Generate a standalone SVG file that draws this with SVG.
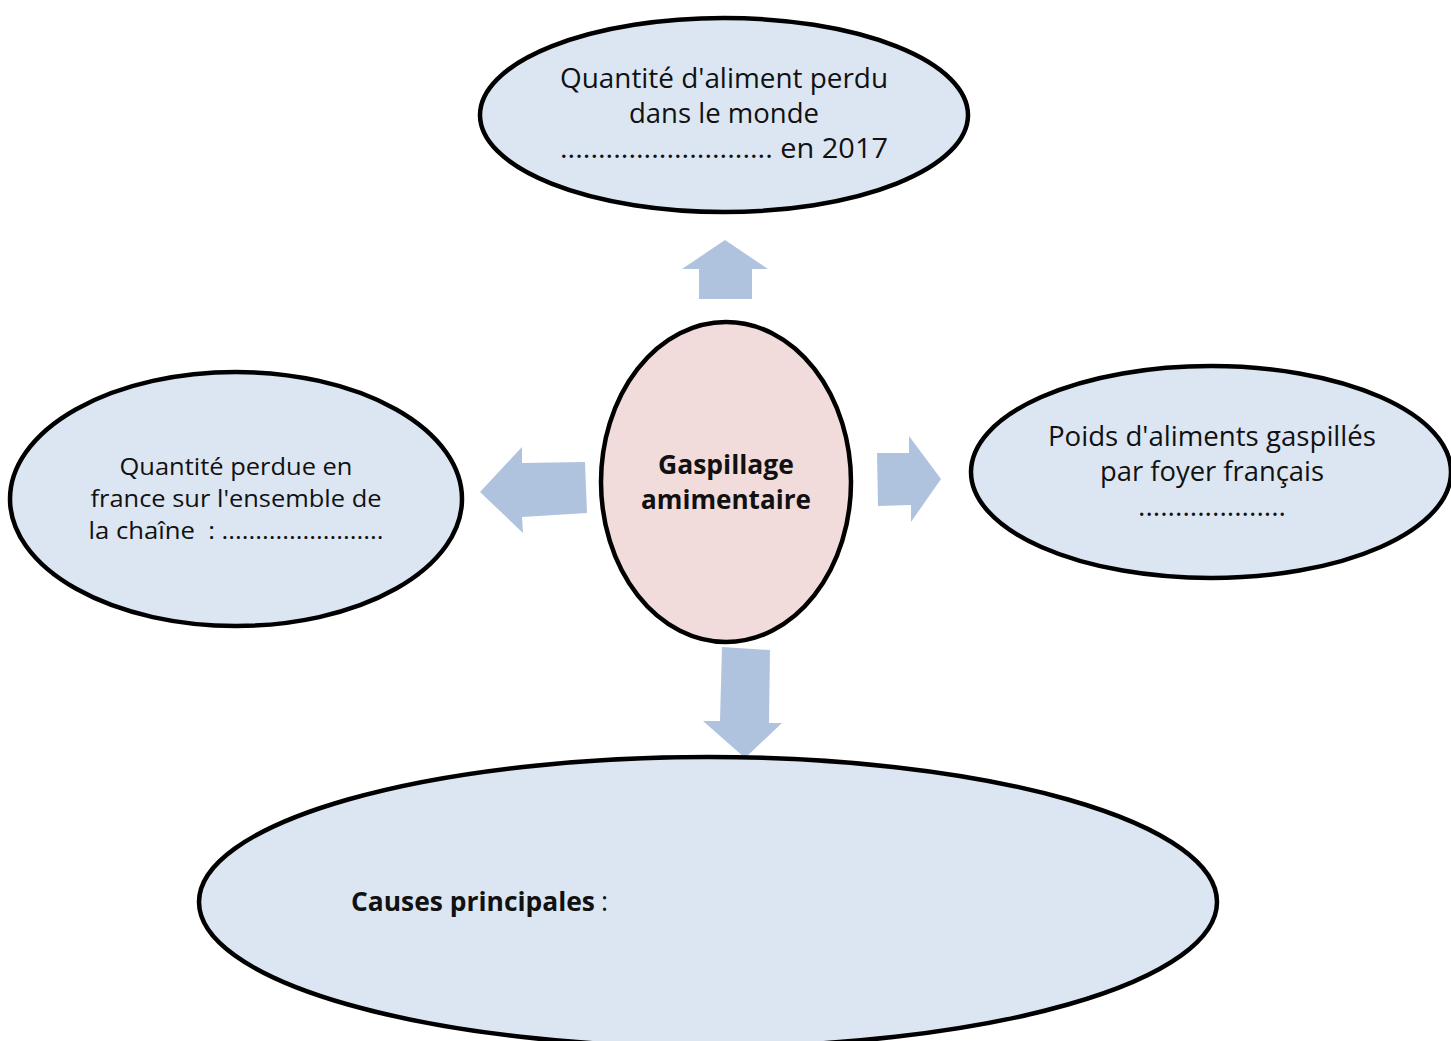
<svg xmlns="http://www.w3.org/2000/svg" width="1451" height="1041" viewBox="0 0 1451 1041">
<style>
.blue{fill:#dce6f2;stroke:#000;stroke-width:4.5}
.pink{fill:#f2dcdb;stroke:#000;stroke-width:4.5}
.arr{fill:#b0c3de;stroke:none}
text{font-family:"Open Sans","Noto Sans","Liberation Sans",sans-serif;fill:#111;text-anchor:middle}
.t{font-size:27px}
.s{font-size:24px}
.b{font-weight:bold}
.st{text-anchor:start}
</style>
<rect width="1451" height="1041" fill="#fff"/>
<g id="connectors">
<polygon class="arr" points="725,240 768,269 752,269 752,299 699,299 699,269 682,269"/>
<polygon class="arr" points="480,492 522,447 522,463 585,462 587,513 522,517 523,533"/>
<polygon class="arr" points="941,479 909,436 909,453 877,453 878,506 911,505 911,522"/>
<polygon class="arr" points="745,758 782,723 769,723 770,650 722,647 720,721 703,721"/>
</g>
<g id="node-top">
<ellipse class="blue" cx="724" cy="115" rx="244" ry="97"/>
<text class="t" x="724" y="88" textLength="328" lengthAdjust="spacingAndGlyphs">Quantité d'aliment perdu</text>
<text class="t" x="724" y="123" textLength="190" lengthAdjust="spacingAndGlyphs">dans le monde</text>
<text class="t" x="724" y="158" textLength="328" lengthAdjust="spacingAndGlyphs">............................ en 2017</text>
</g>
<g id="node-center">
<ellipse class="pink" cx="726" cy="482" rx="125" ry="160"/>
<text class="t b" x="726" y="474" textLength="136" lengthAdjust="spacingAndGlyphs">Gaspillage</text>
<text class="t b" x="726" y="509" textLength="170" lengthAdjust="spacingAndGlyphs">amimentaire</text>
</g>
<g id="node-left">
<ellipse class="blue" cx="236" cy="499" rx="226" ry="127"/>
<text class="s" x="236" y="475" textLength="233" lengthAdjust="spacingAndGlyphs">Quantité perdue en</text>
<text class="s" x="236" y="507" textLength="291" lengthAdjust="spacingAndGlyphs">france sur l'ensemble de</text>
<text class="s" x="236" y="539" textLength="295" lengthAdjust="spacingAndGlyphs" xml:space="preserve">la chaîne  : ........................</text>
</g>
<g id="node-right">
<ellipse class="blue" cx="1211" cy="472" rx="240" ry="106"/>
<text class="t" x="1212" y="446" textLength="328" lengthAdjust="spacingAndGlyphs">Poids d'aliments gaspillés</text>
<text class="t" x="1212" y="481" textLength="224" lengthAdjust="spacingAndGlyphs">par foyer français</text>
<text class="t" x="1212" y="516" textLength="148" lengthAdjust="spacingAndGlyphs">....................</text>
</g>
<g id="node-bottom">
<ellipse class="blue" cx="708" cy="902" rx="509" ry="145"/>
<text class="t b st" x="351" y="911" textLength="244" lengthAdjust="spacingAndGlyphs">Causes principales</text>
<text class="t st" x="601" y="911">:</text>
</g>
</svg>
